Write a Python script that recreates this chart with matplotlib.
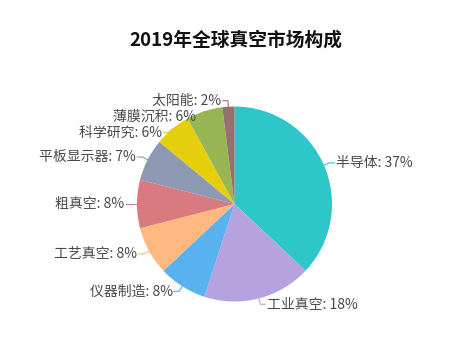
import numpy as np
import matplotlib.pyplot as plt

plt.rcParams['font.family'] = ['Noto Sans CJK SC', 'DejaVu Sans']

# 数据
categories = ['半导体', '工业真空', '仪器制造', '工艺真空', '粗真空',
              '平板显示器', '科学研究', '薄膜沉积', '太阳能']
shares = [37, 18, 8, 8, 8, 7, 6, 6, 2]
colors = ['#2ec7c9', '#b6a2de', '#5ab1ef', '#ffb980', '#d87a80',
          '#8d98b3', '#e5cf0d', '#97b552', '#95706d']
title = '2019年全球真空市场构成'

W, H = 471, 357
fig = plt.figure(figsize=(W / 100, H / 100), dpi=100)
ax = fig.add_axes([0, 0, 1, 1])

cx, cy, r = 234.5, H - 204, 97.5
wedges, _ = ax.pie(shares, colors=colors, startangle=90, counterclock=False,
                   center=(cx, cy), radius=r, frame=True,
                   wedgeprops=dict(linewidth=0))
ax.set_xlim(0, W)
ax.set_ylim(0, H)
ax.set_aspect('equal')
ax.set_axis_off()

# 标签位置 (外侧 + 引导线), 两侧做简单的防重叠处理
len1, len2, gap = 6, 5, 16
labels = []
for w, name, v, col in zip(wedges, categories, shares, colors):
    th = np.deg2rad((w.theta1 + w.theta2) / 2)
    p0 = (cx + r * np.cos(th), cy + r * np.sin(th))
    p1 = [cx + (r + len1) * np.cos(th), cy + (r + len1) * np.sin(th)]
    side = 1 if np.cos(th) >= 0 else -1
    labels.append(dict(p0=p0, p1=p1, side=side, text=f'{name}: {v}%', color=col))

for side in (1, -1):
    group = sorted([l for l in labels if l['side'] == side], key=lambda l: -l['p1'][1])
    for a, b in zip(group, group[1:]):
        if a['p1'][1] - b['p1'][1] < gap:
            b['p1'][1] = a['p1'][1] - gap

for l in labels:
    x0, y0 = l['p0']
    x1, y1 = l['p1']
    x2 = x1 + l['side'] * len2
    ax.plot([x0, x1, x2], [y0, y1, y1], color=l['color'], lw=0.8,
            solid_joinstyle='round')
    ax.text(x2 + l['side'] * 1.5, y1, l['text'], fontsize=10, color='#4a4a4a',
            ha='left' if l['side'] > 0 else 'right', va='center')

ax.text(W / 2, H - 40, title, fontsize=13.5, fontweight='bold',
        color='#111111', ha='center', va='center')

fig.savefig('out.png', dpi=100)
